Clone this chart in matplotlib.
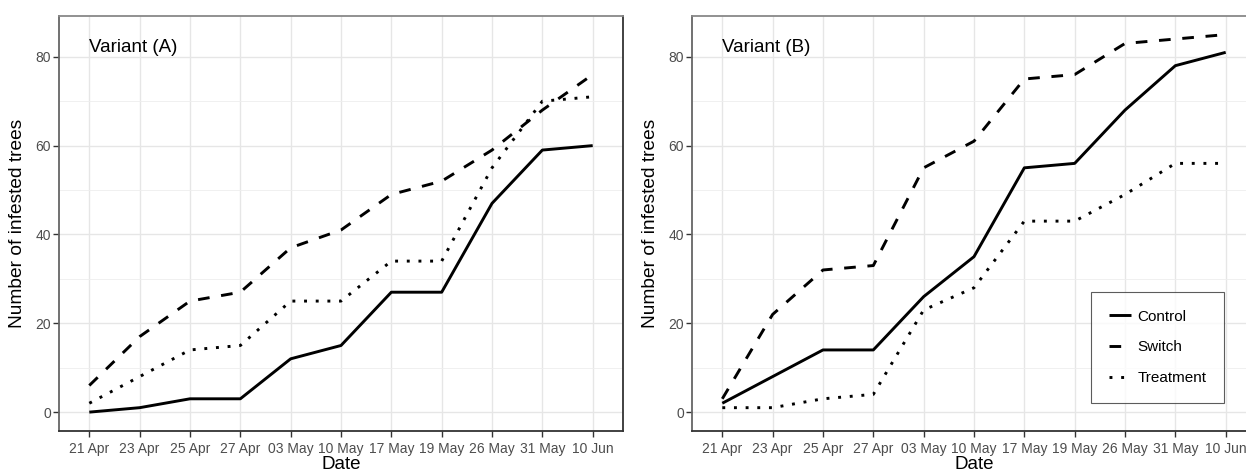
import matplotlib
matplotlib.use("Agg")
import matplotlib.pyplot as plt
from matplotlib.ticker import FixedLocator

dates = ["21 Apr", "23 Apr", "25 Apr", "27 Apr", "03 May", "10 May",
         "17 May", "19 May", "26 May", "31 May", "10 Jun"]

control_a = [0, 1, 3, 3, 12, 15, 27, 27, 47, 59, 60]
switch_a = [6, 17, 25, 27, 37, 41, 49, 52, 59, 68, 76]
treatment_a = [2, 8, 14, 15, 25, 25, 34, 34, 55, 70, 71]

control_b = [2, 8, 14, 14, 26, 35, 55, 56, 68, 78, 81]
switch_b = [3, 22, 32, 33, 55, 61, 75, 76, 83, 84, 85]
treatment_b = [1, 1, 3, 4, 23, 28, 43, 43, 49, 56, 56]

series_names = ["Control", "Switch", "Treatment"]
panel_titles = ["Variant (A)", "Variant (B)"]

plt.rcParams['font.family'] = ['Liberation Sans', 'DejaVu Sans']

W, H = 1246, 474
fig = plt.figure(figsize=(W / 100, H / 100), dpi=100)

def fx(px):
    return px / W

def fy(py):
    return 1 - py / H

top_px, bot_px = 15.7, 431.0
panels = [(59.1, 622.9), (692.1, 1255.9)]
styles = ["-", (0, (4, 4)), (0, (1, 3))]
data = [[control_a, switch_a, treatment_a], [control_b, switch_b, treatment_b]]

x = list(range(len(dates)))
lw = 2.1

for i, (l, r) in enumerate(panels):
    ax = fig.add_axes([fx(l), fy(bot_px), fx(r) - fx(l), fy(top_px) - fy(bot_px)])
    for name, vals, ls in zip(series_names, data[i], styles):
        ax.plot(x, vals, color="black", linestyle=ls, linewidth=lw,
                label=name, solid_capstyle="butt", dash_capstyle="butt")
    ax.set_xlim(-0.6, len(dates) - 1 + 0.6)
    ax.set_ylim(-4.25, 89.25)
    ax.set_xticks(x)
    ax.set_xticklabels(dates)
    ax.yaxis.set_major_locator(FixedLocator([0, 20, 40, 60, 80]))
    ax.yaxis.set_minor_locator(FixedLocator([10, 30, 50, 70]))
    ax.grid(True, which="major", color="#e6e6e6", linewidth=1.0)
    ax.grid(True, which="minor", axis="y", color="#eeeeee", linewidth=0.6)
    ax.set_axisbelow(True)
    ax.tick_params(axis="both", which="major", length=4, width=1.0,
                   color="#333333", labelcolor="#4d4d4d", labelsize=10)
    ax.tick_params(axis="x", pad=4)
    ax.tick_params(axis="y", pad=2)
    ax.tick_params(axis="y", which="minor", length=0)
    ax.spines["top"].set_color("#888888")
    ax.spines["left"].set_color("#666666")
    ax.spines["bottom"].set_color("#333333")
    ax.spines["right"].set_color("#333333")
    for s in ax.spines.values():
        s.set_linewidth(1.3)
    axw = r - l
    axh = bot_px - top_px
    xl = ax.set_xlabel("Date", fontsize=13.5, color="black")
    xl.set_verticalalignment("center")
    ax.xaxis.set_label_coords(0.5, (bot_px - 464.5) / axh)
    yl = ax.set_ylabel("Number of infested trees", fontsize=13.8, color="black")
    yl.set_verticalalignment("center")
    ax.yaxis.set_label_coords(-41.6 / axw, 0.5)
    ax.text(0, 82, panel_titles[i], fontsize=13.5, ha="left", va="center", color="black")
    if i == 1:
        leg = ax.legend(loc="upper left", bbox_to_anchor=(fx(1091), fy(292)),
                        bbox_transform=fig.transFigure, borderaxespad=0,
                        fontsize=11, frameon=True, fancybox=False,
                        edgecolor="#333333", handlelength=1.45, handletextpad=0.45,
                        labelspacing=1.1, borderpad=1.15)
        leg.get_frame().set_linewidth(0.8)

fig.savefig("out.png", dpi=100)
